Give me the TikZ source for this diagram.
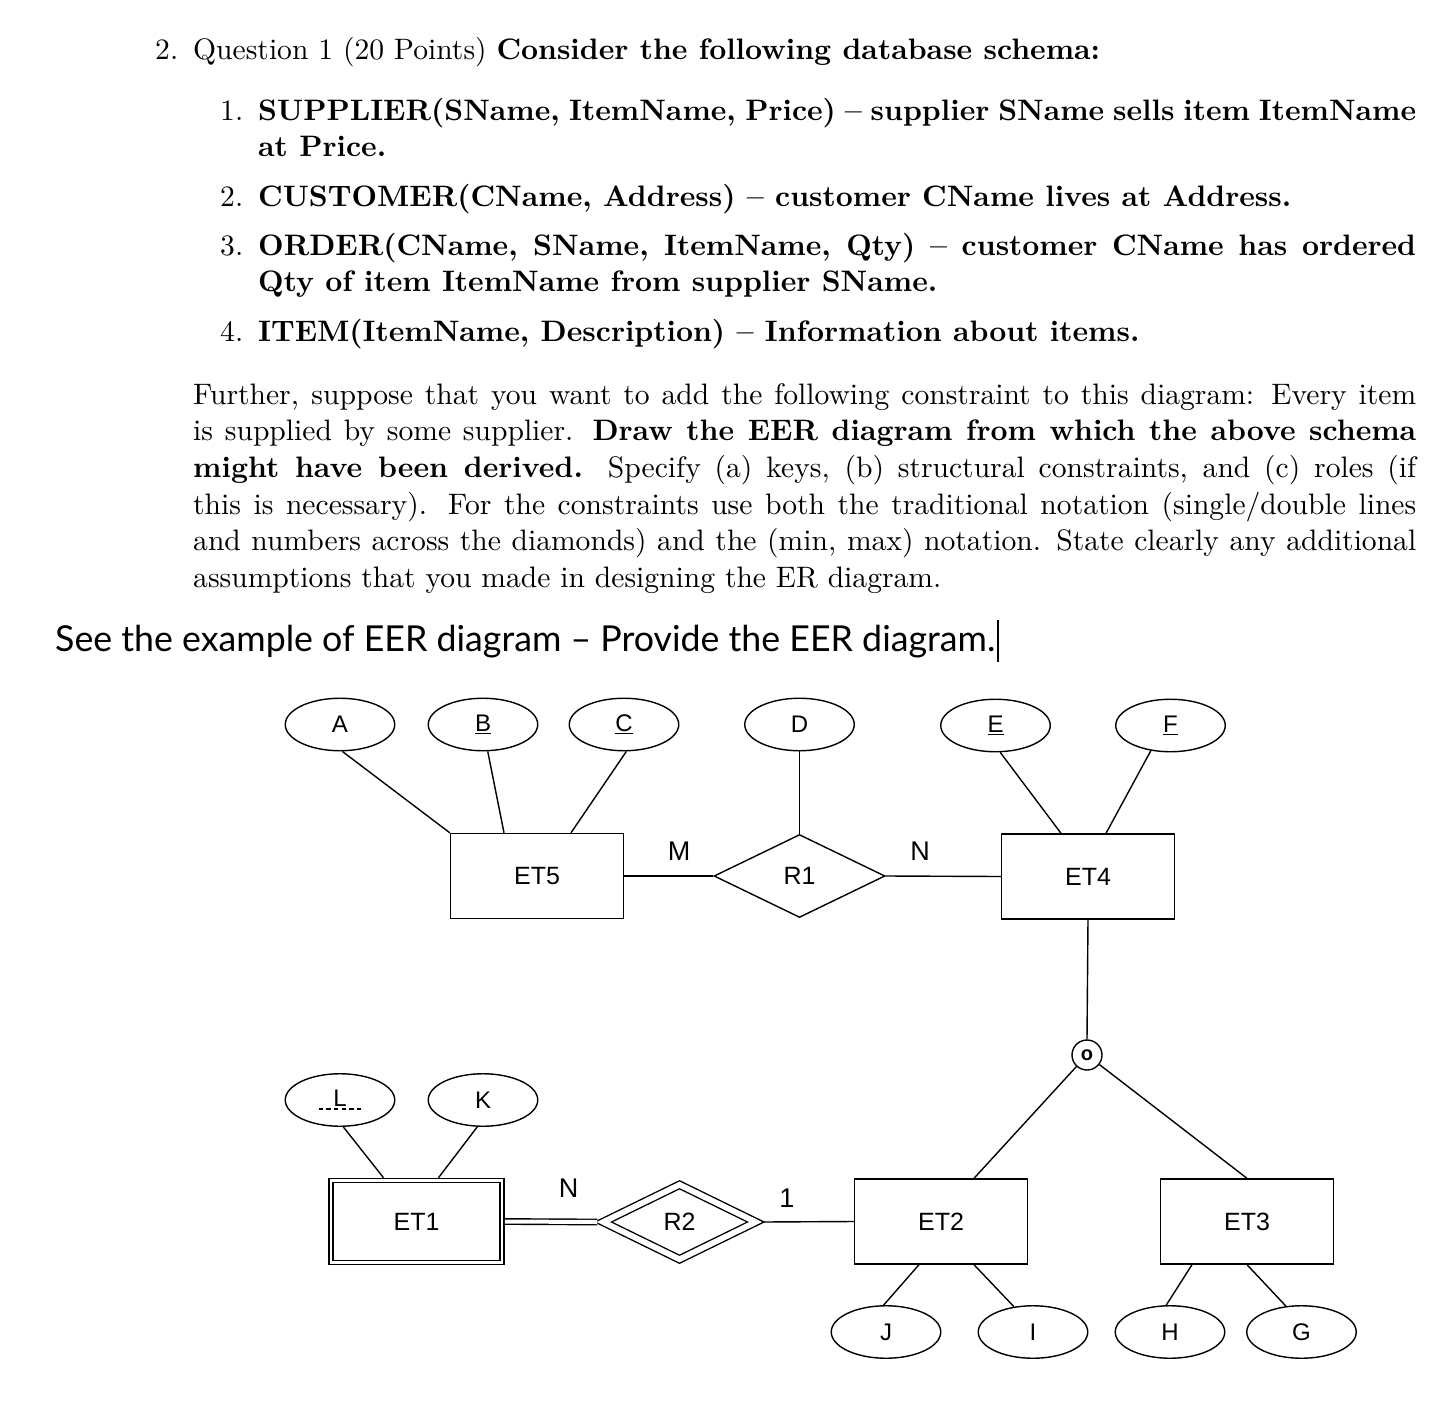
\documentclass[tikz,border=0pt]{standalone}
\usepackage{fontspec}
\usepackage{graphicx}
\usetikzlibrary{shapes.geometric}
\newfontfamily\lsans{Liberation Sans}
\newfontfamily\latofont{Lato}
\newcommand\sk[1]{\scalebox{2.96}{#1}}
\newcommand\keyul[1]{\setbox0\hbox{#1}\rlap{\rule[-2.8pt]{\wd0}{1.3pt}}\box0}
\newcommand\pkeyul[1]{\setbox0\hbox{#1}\rlap{\makebox[\wd0][c]{\hbox to 46pt{\xleaders\hbox to 7.6pt{\hss\rule[-2.8pt]{4.6pt}{1.3pt}\hss}\hfill}}}\box0}
\tikzset{
  erline/.style={line width=1.4pt},
  attr/.style={draw, erline, ellipse, minimum width=109.5pt, minimum height=52.5pt, inner sep=0pt, font=\lsans\fontsize{24}{28}\selectfont},
  ent/.style={draw, erline, rectangle, minimum width=173pt, minimum height=85pt, inner sep=0pt, font=\lsans\fontsize{25}{30}\selectfont},
  rel/.style={draw, erline, diamond, minimum width=171pt, minimum height=83pt, inner sep=0pt, font=\lsans\fontsize{25}{30}\selectfont},
  conn/.style={erline},
  card/.style={inner sep=0pt, font=\lsans\fontsize{27}{30}\selectfont},
  txt/.style={anchor=base west, inner sep=0pt},
}
\begin{document}
\begin{tikzpicture}[x=1pt, y=-1pt]
\fill[white] (0,0) rectangle (1452,1408);
\useasboundingbox (0,0) rectangle (1452,1408);

% ---------- question text ----------
\node[txt] (q2) at (155,59) {\sk{2.}};
\node[txt] (qt) at (193,59) {\sk{Question 1 (20 Points) \textbf{Consider the following database schema:}}};

\node[txt] (n1) at (220,120) {\sk{1.}};
\node[txt] (i1) at (258,120) {\sk{\parbox[t]{391.2pt}{\baselineskip=12.4pt\hyphenpenalty=10000\bfseries SUPPLIER(SName, ItemName, Price) -- supplier SName sells item ItemName\linebreak at Price.}}};
\node[txt] (n2) at (220,206) {\sk{2.}};
\node[txt] (i2) at (258,206) {\sk{\bfseries CUSTOMER(CName, Address) -- customer CName lives at Address.}};
\node[txt] (n3) at (220,255) {\sk{3.}};
\node[txt] (i3) at (258,255) {\sk{\parbox[t]{391.2pt}{\baselineskip=12.4pt\hyphenpenalty=10000\bfseries ORDER(CName, SName, ItemName, Qty) -- customer CName has ordered\linebreak Qty of item ItemName from supplier SName.}}};
\node[txt] (n4) at (220,341) {\sk{4.}};
\node[txt] (i4) at (258,341) {\sk{\bfseries ITEM(ItemName, Description) -- Information about items.}};

\node[txt] (par) at (193,404) {\sk{\parbox[t]{413.2pt}{\baselineskip=12.4pt\hyphenpenalty=10000\emergencystretch=2em
Further, suppose that you want to add the following constraint to this diagram: Every item\linebreak
is supplied by some supplier. \textbf{Draw the EER diagram from which the above schema\linebreak
might have been derived.} Specify (a) keys, (b) structural constraints, and (c) roles (if\linebreak
this is necessary). For the constraints use both the traditional notation (single/double lines\linebreak
and numbers across the diamonds) and the (min, max) notation. State clearly any additional\linebreak
assumptions that you made in designing the ER diagram.}}};

\node[txt] (see) at (55,651) {\resizebox{940pt}{!}{\latofont\fontsize{35}{40}\selectfont See the example of EER diagram – Provide the EER diagram.}};
\coordinate (cur1) at (998,620);
\coordinate (cur2) at (998,662);
\draw[line width=1.5pt] (cur1) -- (cur2);

% ---------- diagram nodes ----------
\node[attr] (A) at (340,724.5) {A};
\node[attr] (B) at (483,724.5) {\keyul{B}};
\node[attr] (C) at (624,724.5) {\keyul{C}};
\node[attr] (D) at (799.5,724.5) {D};
\node[attr] (E) at (995.5,725.5) {\keyul{E}};
\node[attr] (F) at (1170.5,725.5) {\keyul{F}};

\node[ent] (ET5) at (537,876) {ET5};
\node[rel] (R1) at (799.5,876) {R1};
\node[ent] (ET4) at (1088,876.5) {ET4};

\node[draw, erline, circle, minimum size=30pt, inner sep=0pt, font=\lsans\bfseries\fontsize{20}{22}\selectfont] (O) at (1087,1055) {o};

\node[attr] (L) at (340,1100) {\pkeyul{L}};
\node[attr] (K) at (483,1100) {K};

\node[ent, minimum width=171pt, minimum height=82pt, double, double distance=2.8pt, outer sep=2.8pt] (ET1) at (416.5,1221.5) {ET1};
\node[rel, minimum width=156pt, minimum height=78pt, double, double distance=5.7pt, outer sep=4.2pt] (R2) at (679.5,1222) {R2};
\node[ent] (ET2) at (941,1221.5) {ET2};
\node[ent] (ET3) at (1247,1221.5) {ET3};

\node[attr] (J) at (886,1332) {J};
\node[attr] (I) at (1033,1332) {I};
\node[attr] (H) at (1170,1332) {H};
\node[attr] (G) at (1301.5,1332) {G};

% cardinality labels
\node[card] (lM) at (679,851) {M};
\node[card] (lN1) at (920,851) {N};
\node[card] (lN2) at (568.5,1188) {N};
\node[card] (l1) at (787,1198) {1};

% ---------- connectors ----------
\draw[conn] (A.275) -- (ET5.north west);
\draw[conn] (B.280) -- ([xshift=-33pt]ET5.north);
\draw[conn] (C.275) -- ([xshift=34pt]ET5.north);
\draw[conn] (D) -- (R1);
\draw[conn] (ET5.east) -- (R1.west);
\draw[conn] (R1.east) -- (ET4.west);
\draw[conn] (E.280) -- ([xshift=-27pt]ET4.north);
\draw[conn] (F.232) -- ([xshift=18pt]ET4.north);
\draw[conn] (ET4.south) -- (O.north);
\draw[conn] (O) -- ([xshift=33pt]ET2.north);
\draw[conn] (O) -- (ET3.north);
\draw[conn] ([xshift=-22pt]ET2.south) -- (J.95);
\draw[conn] ([xshift=33pt]ET2.south) -- (I.127);
\draw[conn] ([xshift=-55pt]ET3.south) -- (H.98);
\draw[conn] (ET3.south) -- (G.121);
\draw[conn] (L.277) -- ([xshift=-33pt]ET1.north);
\draw[conn] (K.258) -- ([xshift=22pt]ET1.north);
\draw[conn, double, double distance=4pt] (ET1.east) -- (R2.west);
\draw[conn] (R2.east) -- (ET2.west);
\end{tikzpicture}
\end{document}
